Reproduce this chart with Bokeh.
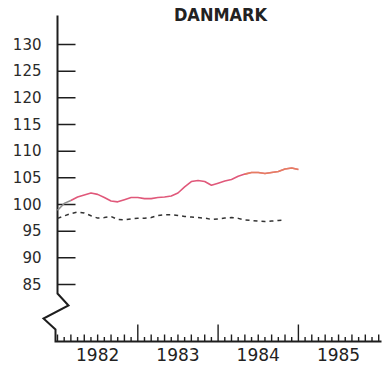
from bokeh.plotting import figure
from bokeh.models import Range1d
from bokeh.core.properties import value
from bokeh.embed import file_html
from bokeh.resources import INLINE

# ---------------- data ----------------
title_text = "DANMARK"
index_red = [98.9, 100.2, 100.75, 101.4, 101.8, 102.15, 101.9, 101.3, 100.65, 100.5,
             100.9, 101.3, 101.3, 101.1, 101.1, 101.3, 101.4, 101.6, 102.15, 103.3,
             104.3, 104.5, 104.3, 103.6, 104.0, 104.4, 104.7, 105.3, 105.7, 106.0,
             106.0, 105.8, 106.0, 106.2, 106.65, 106.85, 106.55]
index_dashed = [97.4, 97.85, 98.3, 98.6, 98.4, 97.9, 97.45, 97.55, 97.75, 97.2,
                97.1, 97.3, 97.4, 97.4, 97.55, 97.95, 98.1, 98.1, 97.95, 97.75,
                97.65, 97.55, 97.45, 97.2, 97.3, 97.45, 97.55, 97.4, 97.1, 97.0,
                96.9, 96.8, 96.9, 97.0, 97.1]
start_year = 1982
y_tick_values = [85, 90, 95, 100, 105, 110, 115, 120, 125, 130]
y_tick_labels = ["85", "90", "95", "100", "105", "110", "115", "120", "125", "130"]
x_tick_years = [1982, 1983, 1984, 1985]
x_tick_labels = ["1982", "1983", "1984", "1985"]

months_red = [start_year + i / 12 for i in range(len(index_red))]
months_dashed = [start_year + i / 12 for i in range(len(index_dashed))]

# ---------------- geometry (canvas pixels) ----------------
W, H = 388, 367
PX_YEAR = 80.3          # pixels per year
PX_UNIT = 16.0 / 3.0    # pixels per index unit
X0 = 57.0               # canvas x of 1982.0
Y100 = 204.0            # canvas y of value 100

def xd(px):  # canvas x -> data x
    return start_year + (px - X0) / PX_YEAR

def yd(py):  # canvas y -> data y
    return 100 + (Y100 - py) / PX_UNIT

p = figure(width=W, height=H, output_backend="svg", toolbar_location=None,
           x_range=Range1d(xd(0), xd(W)), y_range=Range1d(yd(H), yd(0)),
           min_border=0, min_border_left=0, min_border_right=0,
           min_border_top=0, min_border_bottom=0)
p.axis.visible = False
p.grid.visible = False
p.outline_line_color = None
p.background_fill_color = "white"
p.border_fill_color = "white"

ink = "#1e1e1e"

# axis line with break (zigzag) and x-axis baseline
ax_px = [(57, 15), (57, 293), (68, 305), (43, 318), (55, 329), (55, 341), (381, 341)]
p.line([xd(a) for a, b in ax_px], [yd(b) for a, b in ax_px],
       line_color=ink, line_width=2, line_join="miter")

# y ticks (inward, to the right)
ytick_len = 18 / PX_YEAR
p.segment(x0=[start_year] * len(y_tick_values), y0=y_tick_values,
          x1=[start_year + ytick_len] * len(y_tick_values), y1=y_tick_values,
          line_color=ink, line_width=1.5)
p.text(x=[xd(41)] * len(y_tick_values), y=y_tick_values, text=y_tick_labels,
       text_align="right", text_baseline="middle", y_offset=-1,
       text_font=value("DejaVu Sans"), text_font_size="15px", text_color="#2a2a2a")

# x ticks: monthly minor (alternating), yearly major
axis_y = yd(341)
tx, ty0, ty1 = [], [], []
n_months = (x_tick_years[-1] + 1 - x_tick_years[0]) * 12
for m in range(n_months + 1):
    t = x_tick_years[0] + m / 12
    if m % 12 == 0 and 0 < m < n_months:
        L = 17
    elif m % 2 == 0:
        L = 7
    else:
        L = 4.5
    tx.append(t)
    ty0.append(axis_y)
    ty1.append(axis_y + L / PX_UNIT)
p.segment(x0=tx, y0=ty0, x1=tx, y1=ty1, line_color=ink, line_width=1.4)

# x tick labels centred within each year
p.text(x=[yr + 0.5 for yr in x_tick_years], y=[yd(347)] * len(x_tick_years),
       text=x_tick_labels, text_align="center", text_baseline="top",
       text_font=value("DejaVu Sans"), text_font_size="17px", text_color="#222222")

# title
p.text(x=[xd(220)], y=[yd(14)], text=[title_text], text_align="center",
       text_baseline="alphabetic", text_font=value("DejaVu Sans Condensed, DejaVu Sans"),
       text_font_style="bold", text_font_size="18px", text_color="#222222")

# series
p.line(months_dashed, index_dashed, line_color="#333333", line_width=1.5,
       line_dash="4 4")
p.line(months_red[:3], index_red[:3], line_color="#8c8c8c", line_width=1.5)
p.line(months_red[2:], index_red[2:], line_color="#e0587a", line_width=1.6)
p.line(months_red[28:], index_red[28:], line_color="#e8895a", line_width=1.6,
       line_alpha=0.75)

open("out.html", "w").write(file_html(p, INLINE))
